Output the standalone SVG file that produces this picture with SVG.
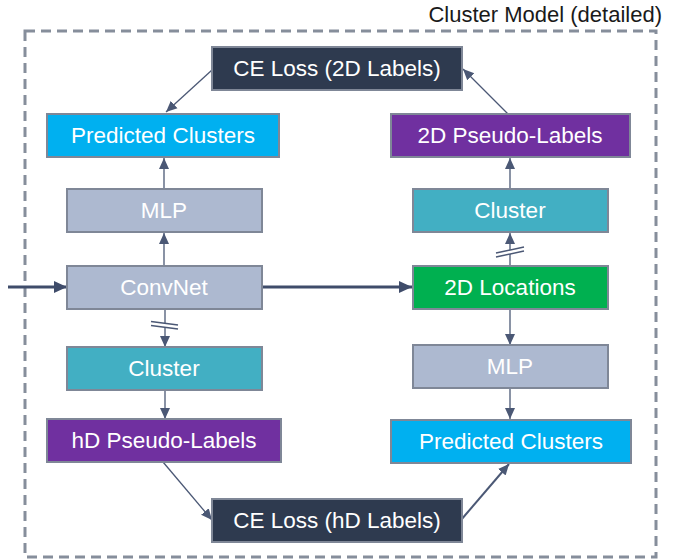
<svg xmlns="http://www.w3.org/2000/svg" width="683" height="559" viewBox="0 0 683 559">
<defs>
<marker id="ah" markerUnits="userSpaceOnUse" markerWidth="12" markerHeight="12" viewBox="0 0 12 12" refX="11" refY="6" orient="auto">
<path d="M0,1 L11,6 L0,11 Z" fill="#4b5875"/>
</marker>
<marker id="ahb" markerUnits="userSpaceOnUse" markerWidth="14" markerHeight="14" viewBox="0 0 14 14" refX="13" refY="7" orient="auto">
<path d="M0,1 L13,7 L0,13 Z" fill="#3f4c6a"/>
</marker>
<style>
.box{stroke:#7f8797;stroke-width:2}
.t{font-family:"Liberation Sans",Arial,sans-serif;font-size:22.5px;fill:#ffffff;text-anchor:middle}
.navy{fill:#2e3a4f}
.cyan{fill:#00b0f0}
.purple{fill:#7030a0}
.slate{fill:#adb9d0}
.teal{fill:#42afc3}
.green{fill:#00b050}
.c{stroke:#4b5875;stroke-width:1.3;fill:none;marker-end:url(#ah)}
.cb{stroke:#3f4c6a;stroke-width:3;fill:none;marker-end:url(#ahb)}
.slash{stroke:#4b5875;stroke-width:1.5}
</style>
</defs>
<rect x="25" y="31" width="631" height="526" fill="none" stroke="#868e9b" stroke-width="3" stroke-dasharray="10,6"/>
<text x="662" y="22" style="font-family:'Liberation Sans',Arial,sans-serif;font-size:22px;fill:#1a1a1a;text-anchor:end">Cluster Model (detailed)</text>

<g id="connectors">
<line class="c" x1="212" y1="70" x2="166" y2="112"/>
<line class="c" x1="508" y1="114" x2="463" y2="69"/>
<line class="c" x1="164" y1="266" x2="164" y2="233"/>
<line class="c" x1="164" y1="189" x2="164" y2="158"/>
<line class="c" x1="165" y1="310" x2="165" y2="347"/>
<line class="c" x1="165" y1="390" x2="165" y2="419"/>
<line class="c" x1="510" y1="265" x2="510" y2="233"/>
<line class="c" x1="510" y1="189" x2="510" y2="158"/>
<line class="c" x1="510" y1="309" x2="510" y2="345"/>
<line class="c" x1="510" y1="388" x2="510" y2="419"/>
<line class="c" x1="163" y1="462" x2="212" y2="520"/>
<line class="c" x1="461" y1="520" x2="509" y2="464" style="stroke-width:2"/>
<line class="cb" x1="8" y1="287" x2="67" y2="287"/>
<line class="cb" x1="262" y1="287" x2="412" y2="287"/>
<line x1="151" y1="323.5" x2="178" y2="327" stroke="#ffffff" stroke-width="4"/>
<line class="slash" x1="151" y1="321.5" x2="178" y2="325"/>
<line class="slash" x1="151" y1="325.5" x2="178" y2="329"/>
<line x1="496" y1="255" x2="524" y2="249" stroke="#ffffff" stroke-width="4"/>
<line class="slash" x1="496" y1="257" x2="524" y2="251"/>
<line class="slash" x1="496" y1="253" x2="524" y2="247"/>
</g>

<g id="ce2d"><rect class="box navy" x="212" y="47" width="250" height="43"/><text class="t" x="337" y="76">CE Loss (2D Labels)</text></g>
<g id="pred-tl"><rect class="box cyan" x="47" y="114" width="232" height="43"/><text class="t" x="163" y="143">Predicted Clusters</text></g>
<g id="pseudo2d"><rect class="box purple" x="391" y="114" width="239" height="43"/><text class="t" x="510" y="143">2D Pseudo-Labels</text></g>
<g id="mlp-l"><rect class="box slate" x="67" y="189" width="195" height="43"/><text class="t" x="164" y="218">MLP</text></g>
<g id="cluster-r"><rect class="box teal" x="413" y="189" width="195" height="43"/><text class="t" x="510" y="218">Cluster</text></g>
<g id="convnet"><rect class="box slate" x="67" y="266" width="195" height="43"/><text class="t" x="164" y="295">ConvNet</text></g>
<g id="loc2d"><rect class="box green" x="413" y="266" width="195" height="43"/><text class="t" x="510" y="295">2D Locations</text></g>
<g id="cluster-l"><rect class="box teal" x="67" y="347" width="195" height="43"/><text class="t" x="164" y="376">Cluster</text></g>
<g id="mlp-r"><rect class="box slate" x="413" y="345" width="195" height="43"/><text class="t" x="510" y="374">MLP</text></g>
<g id="pseudohd"><rect class="box purple" x="47" y="419" width="234" height="43"/><text class="t" x="164" y="448">hD Pseudo-Labels</text></g>
<g id="pred-br"><rect class="box cyan" x="391" y="420" width="240" height="43"/><text class="t" x="511" y="449">Predicted Clusters</text></g>
<g id="cehd"><rect class="box navy" x="212" y="499" width="250" height="43"/><text class="t" x="337" y="528">CE Loss (hD Labels)</text></g>
</svg>
